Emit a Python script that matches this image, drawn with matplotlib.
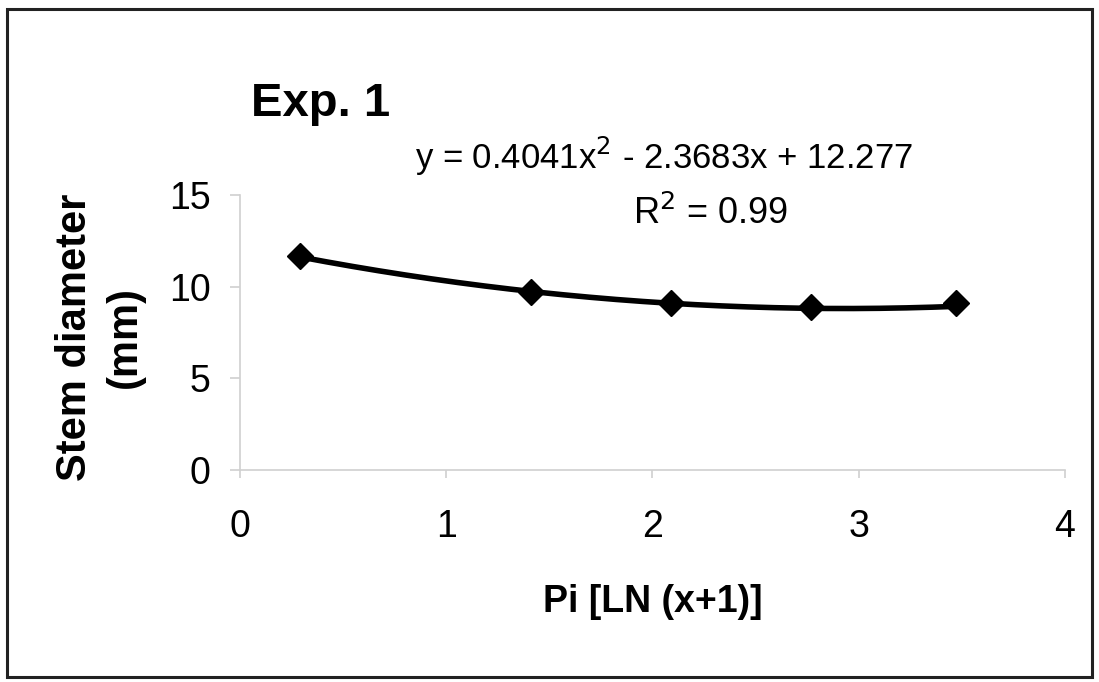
import numpy as np
import matplotlib
matplotlib.use("Agg")
import matplotlib.pyplot as plt
from matplotlib.patches import Rectangle

# data
pi_ln = [0.29, 1.41, 2.09, 2.77, 3.47]
stem_diam = [11.65, 9.72, 9.10, 8.90, 9.10]
trend_coef = [0.4041, -2.3683, 12.277]   # from the equation shown on the chart
r_squared = 0.99
x_ticks = [0, 1, 2, 3, 4]
y_ticks = [0, 5, 10, 15]

plt.rcParams["font.family"] = ["Liberation Sans", "DejaVu Sans"]

fig = plt.figure(figsize=(10.99, 6.82), dpi=100)
fig.patches.append(Rectangle((0.006, 0.007), 0.988, 0.98, transform=fig.transFigure,
                             fill=False, edgecolor="#222222", linewidth=2.2))

ax = fig.add_axes([0.2184, 0.311, 0.7506, 0.403])

xs = np.linspace(pi_ln[0], pi_ln[-1], 200)
ax.plot(xs, np.polyval(trend_coef, xs), color="black", linewidth=4.0, zorder=2)
ax.plot(pi_ln, stem_diam, linestyle="none", marker="D", markersize=13,
        color="black", zorder=3)

ax.set_xlim(0, 4)
ax.set_ylim(0, 15)
ax.set_xticks(x_ticks)
ax.set_yticks(y_ticks)

for side in ("top", "right"):
    ax.spines[side].set_visible(False)
for side in ("left", "bottom"):
    ax.spines[side].set_color("#d0d0d0")
    ax.spines[side].set_linewidth(1.2)

ax.tick_params(axis="y", direction="out", length=7, width=1.2, color="#d0d0d0",
               labelsize=27, pad=14)
ax.tick_params(axis="x", direction="out", length=6, width=1.2, color="#d0d0d0",
               labelsize=27, pad=22)

ax.set_xlabel("Pi [LN (x+1)]", fontsize=27, fontweight="bold", labelpad=28)
fig.text(0.091, 0.506, "Stem diameter\n(mm)", rotation=90, fontsize=30,
         fontweight="bold", ha="center", va="center", linespacing=1.3)

fig.text(0.228, 0.848, "Exp. 1", fontsize=34, fontweight="bold", va="center")

a, b, c = trend_coef
fig.text(0.604, 0.770, f"y = {a}x$^2$ - {abs(b)}x + {c}", fontsize=25,
         ha="center", va="center")
fig.text(0.647, 0.687, f"R$^2$ = {r_squared}", fontsize=26, ha="center", va="center")

plt.savefig("out.png", dpi=100)
plt.close()
